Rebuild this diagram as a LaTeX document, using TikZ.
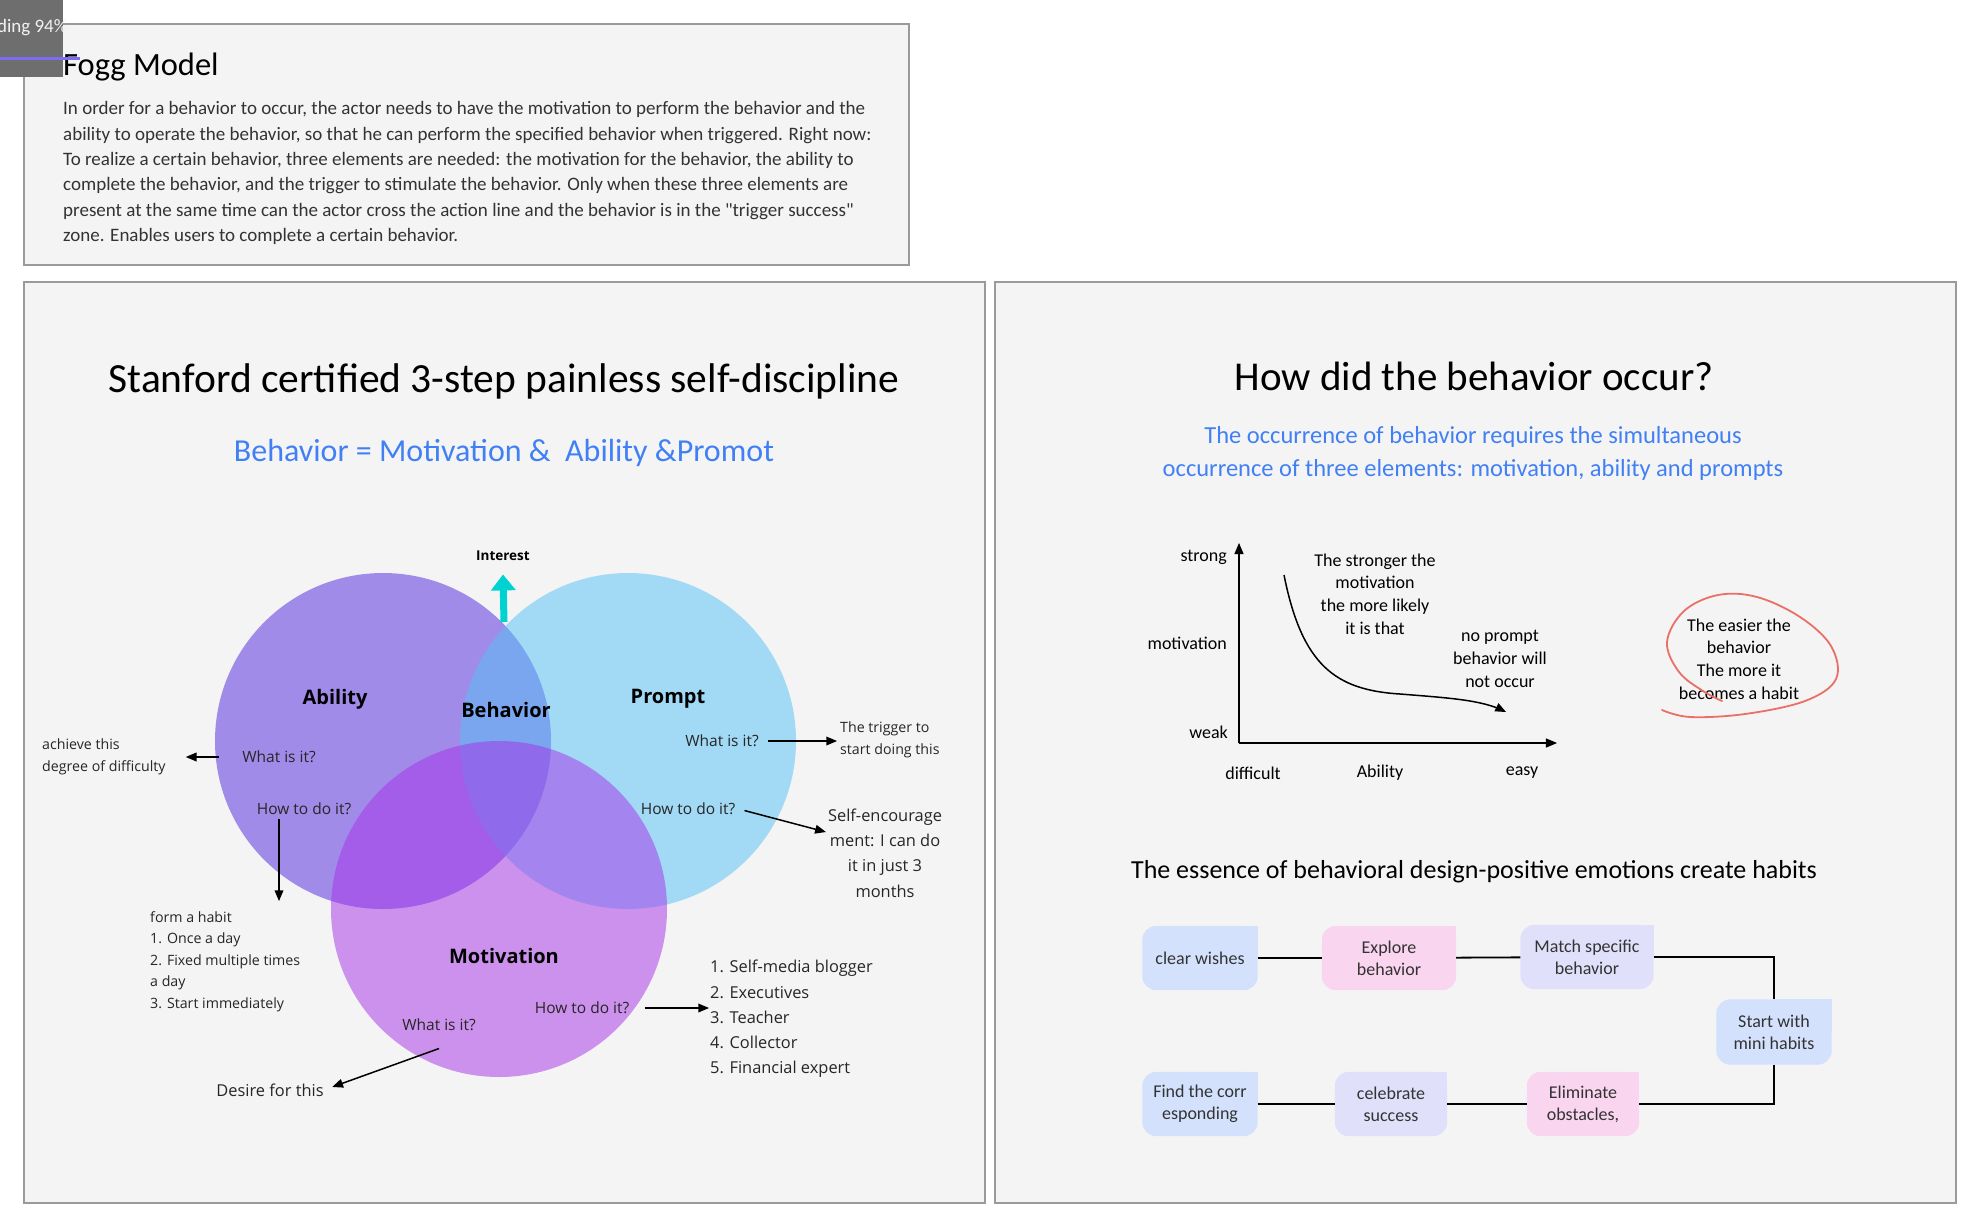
\documentclass[tikz,border=0pt]{standalone}
\usepackage{fontspec}
\setmainfont{Carlito}[Ligatures=TeXOff]
\newfontfamily\vennfont{Open Sans}
\usepackage{tikz}
\usetikzlibrary{arrows,arrows.meta,positioning,shapes,calc}
\pgfdeclarelayer{bg}
\pgfsetlayers{bg,main}

\definecolor{panelfill}{HTML}{F4F4F4}
\definecolor{paneledge}{HTML}{9A9A9A}
\definecolor{bodytext}{HTML}{333333}
\definecolor{titleblue}{HTML}{4180F4}
\definecolor{abilityc}{HTML}{5024E0}
\definecolor{promptc}{HTML}{52C2F6}
\definecolor{motivc}{HTML}{A630E8}
\definecolor{interestc}{HTML}{00D2D2}
\definecolor{loopred}{HTML}{EA6F66}
\definecolor{flowblue}{HTML}{D3E1FD}
\definecolor{flowpink}{HTML}{F9D5EF}
\definecolor{flowlilac}{HTML}{E1E0FB}
\definecolor{loadgray}{HTML}{6E6E6E}
\definecolor{loadbar}{HTML}{7C6CF2}

\begin{document}
\begin{tikzpicture}[x=1pt,y=-1pt,>=triangle 45,
	panel/.style={fill=panelfill,draw=paneledge,line width=1.2pt},
	set circle/.style={circle,minimum size=336pt,inner sep=0pt,fill opacity=0.5},
	set label/.style={font=\vennfont\bfseries\fontsize{20}{24}\selectfont},
	qlabel/.style={font=\vennfont\fontsize{15.5}{20}\selectfont,text=black!85},
	small note/.style={font=\vennfont\fontsize{14.2}{21.5}\selectfont,text=black!85,align=left,inner sep=0pt},
	big note/.style={font=\vennfont\fontsize{16.4}{25.3}\selectfont,text=black!85,inner sep=0pt},
	link/.style={->,line width=1.5pt},
	chart text/.style={font=\fontsize{18}{22.7}\selectfont,align=center,inner sep=0pt},
	flow box/.style={minimum height=64pt,align=center,inner sep=2pt,
		font=\fontsize{18}{22}\selectfont,text=black!80},
	flow link/.style={line width=1.8pt}]

	\useasboundingbox (0,0) rectangle (1980,1229);

	% panels
	\begin{pgfonlayer}{bg}
	\fill[white] (0,0) rectangle (1980,1229);
	\draw[panel] (24,24) rectangle (909,265);
	\draw[panel] (24,282) rectangle (985,1203);
	\draw[panel] (995,282) rectangle (1956,1203);
	\end{pgfonlayer}

	% Fogg model box
	\node[anchor=west,inner sep=0pt,font=\fontsize{32.5}{36}\selectfont] (fogg) at (63,67) {Fogg Model};
	\node[anchor=west,inner sep=0pt,align=left,text=bodytext,font=\fontsize{19}{25.3}\selectfont] (foggtext) at (63,173)
	{In order for a behavior to occur, the actor needs to have the motivation to perform the behavior and the\\
	ability to operate the behavior, so that he can perform the specified behavior when triggered. Right now:\\
	To realize a certain behavior, three elements are needed: the motivation for the behavior, the ability to\\
	complete the behavior, and the trigger to stimulate the behavior. Only when these three elements are\\
	present at the same time can the actor cross the action line and the behavior is in the "trigger success"\\
	zone. Enables users to complete a certain behavior.};

	% left panel
	\node[font=\fontsize{41.5}{45}\selectfont] (lefttitle) at (504,381) {Stanford certified 3-step painless self-discipline};
	\node[text=titleblue,font=\fontsize{32}{36}\selectfont] (formula) at (504,453) {Behavior = Motivation \&\ \ Ability \&Promot};

	\node[set circle,fill=abilityc] (A) at (383,741) {};
	\node[set circle,fill=promptc] (P) at (628,741) {};
	\node[set circle,fill=motivc] (M) at (499,909) {};

	\node[set label] (ability) at (335,699) {Ability};
	\node[set label] (behavior) at (506,710) {Behavior};
	\node[set label] (prompt) at (668,699) {Prompt};
	\node[set label] (motivation) at (504,956) {Motivation};

	\node[font=\vennfont\bfseries\fontsize{13.5}{16}\selectfont] (interest) at (503,556) {Interest};
	\coordinate (ibase) at (504,622);
	\draw[interestc,line width=7pt,-{Triangle[width=24pt,length=16pt]}] (ibase) -- ([yshift=-10pt]interest.south);

	% ability notes
	\node[qlabel] (awhat) at (279,757) {What is it?};
	\node[small note,anchor=west] (adiff) at (42,757) {achieve this\\degree of difficulty};
	\draw[link,shorten <=20pt,shorten >=20pt] (awhat.west) -- (awhat.west -| adiff.east);
	\node[qlabel] (ahow) at (304,809) {How to do it?};
	\node[small note,anchor=north west] (habit) at (150,911)
	{form a habit\\1. Once a day\\2. Fixed multiple times\\a day\\3. Start immediately};
	\draw[link,shorten >=10pt] ([xshift=-25pt]ahow.south) -- ([xshift=-25pt]ahow.south |- habit.north);

	% motivation notes
	\node[qlabel] (mwhat) at (439,1025) {What is it?};
	\node[big note] (mdesire) at (270,1090) {Desire for this};
	\draw[link,shorten >=9pt] ([yshift=-14pt]mwhat.south) -- (mdesire.east);
	\node[qlabel] (mhow) at (582,1008) {How to do it?};
	\node[big note,anchor=west,align=left] (mlist) at (710,1019)
	{1. Self-media blogger\\2. Executives\\3. Teacher\\4. Collector\\5. Financial expert};
	\draw[link,shorten <=12pt,shorten >=1pt] (mhow.east) -- (mhow.east -| mlist.west);

	% prompt notes
	\node[qlabel] (pwhat) at (722,741) {What is it?};
	\node[small note,anchor=west] (ptrig) at (840,740) {The trigger to\\start doing this};
	\draw[link,shorten <=6pt,shorten >=3pt] (pwhat.east) -- (pwhat.east -| ptrig.west);
	\node[qlabel] (phow) at (688,809) {How to do it?};
	\node[big note,align=center] (penc) at (885,853) {Self-encourage\\ment: I can do\\it in just 3\\months};
	\draw[link,shorten <=6pt] (phow.east) -- ($(penc.west)+(-2,-21)$);

	% right panel
	\node[font=\fontsize{41}{45}\selectfont] (righttitle) at (1474,376) {How did the behavior occur?};
	\node[text=titleblue,align=center,font=\fontsize{24.5}{33}\selectfont] (occur) at (1473,453)
	{The occurrence of behavior requires the simultaneous\\occurrence of three elements: motivation, ability and prompts};

	% chart
	\coordinate (O) at (1239,743);
	\coordinate (ytop) at (1239,543);
	\coordinate (xend) at (1557,743);
	\draw[->,line width=1.6pt] (O) -- (ytop);
	\draw[->,line width=1.6pt] (O) -- (xend);
	\node[chart text,anchor=east] (strong) at (1227,557) {strong};
	\node[chart text,anchor=east] (motiv) at (1227,643) {motivation};
	\node[chart text,anchor=east] (weak) at (1228,732) {weak};
	\node[chart text] (difficult) at (1253,773) {difficult};
	\node[chart text] (abil) at (1380,773) {Ability};
	\node[chart text] (easy) at (1522,773) {easy};
	\draw[->,line width=1.5pt] (1284,575) .. controls (1302,665) and (1335,690) .. (1400,694)
		.. controls (1450,698) and (1482,700) .. (1506,712);
	\node[chart text] (stronger) at (1375,594) {The stronger the\\motivation\\the more likely\\it is that};
	\node[chart text] (noprompt) at (1500,659) {no prompt\\behavior will\\not occur};
	\node[chart text] (easier) at (1739,659) {The easier the\\behavior\\The more it\\becomes a habit};
	\draw[loopred,line width=1.8pt,line cap=round] plot[smooth,tension=0.6] coordinates
		{(1662,710) (1690,717) (1745,714) (1805,701) (1836,679) (1831,646) (1800,617)
		 (1757,597) (1718,595) (1684,611) (1667,642) (1679,672) (1703,691) (1722,701)};

	\node[font=\fontsize{26}{30}\selectfont] (essence) at (1474,872)
	{The essence of behavioral design-positive emotions create habits};

	% habit flow
	\node[flow box,minimum width=115pt] (cw) at (1200,958) {clear wishes};
	\node[flow box,minimum width=134pt] (eb) at (1389,958) {Explore\\behavior};
	\node[flow box,minimum width=133pt] (ms) at (1587,957) {Match specific\\behavior};
	\node[flow box,minimum width=115pt,minimum height=65pt] (sm) at (1774,1032) {Start with\\mini habits};
	\node[flow box,minimum width=112pt] (eo) at (1583,1104) {Eliminate\\obstacles,};
	\node[flow box,minimum width=112pt] (cs) at (1391,1104) {celebrate\\success};
	\node[flow box,minimum width=115pt] (fc) at (1200,1104) {Find the corr\\esponding};

	\begin{pgfonlayer}{bg}
	\foreach \n/\c in {cw/flowblue,eb/flowpink,ms/flowlilac,sm/flowblue,eo/flowpink,cs/flowlilac,fc/flowblue}{
		\fill[\c,rounded corners=14pt] (\n.south west) rectangle (\n.north east);
		\fill[\c] (\n.center) rectangle (\n.north east);
	}
	\end{pgfonlayer}

	\path[flow link,draw=black]
	(cw) edge (eb)
	(eb) edge (ms)
	(cs) edge (eo)
	(fc) edge (cs);
	\draw[flow link] (ms) -| (sm);
	\draw[flow link] (sm) |- (eo);

	% loading overlay
	\fill[loadgray] (0,0) rectangle (63,77);
	\node[anchor=east,text=white!90!gray,font=\fontsize{19}{22}\selectfont] (loading) at (71,28) {ding 94\%};
	\draw[loadbar,line width=3pt] (0,58) -- (80,58);

\end{tikzpicture}
\end{document}
